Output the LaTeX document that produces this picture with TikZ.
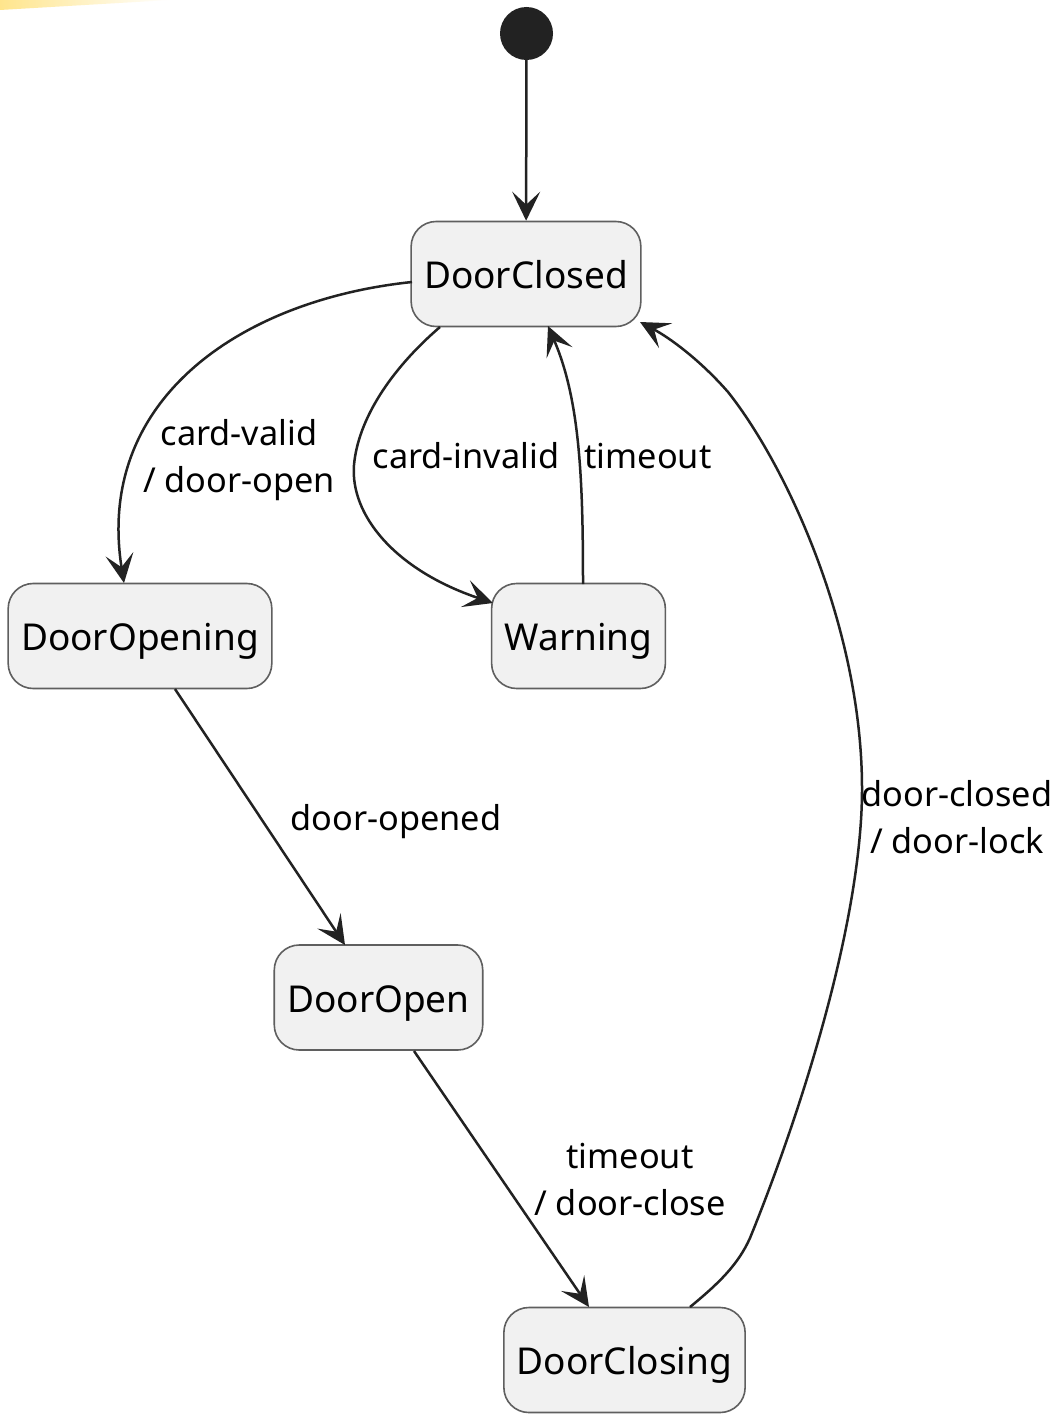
\documentclass[tikz,border=0pt]{standalone}
\usepackage{fontspec}
\setmainfont{Noto Sans}
\usetikzlibrary{arrows.meta}
\definecolor{statefill}{HTML}{F1F1F1}
\definecolor{stateline}{HTML}{5F5F5F}
\definecolor{ink}{HTML}{222222}
\tikzset{
  statebox/.style={draw=stateline, line width=1.6pt, fill=statefill, rounded corners=25pt,
    minimum height=105pt, inner xsep=13pt, text height=29pt, text depth=0pt,
    font=\fontsize{37}{44}\selectfont, text=black},
  startdot/.style={circle, fill=ink, minimum size=53pt, inner sep=0pt},
  trans/.style={draw=ink, line width=2.5pt, -{Stealth[length=29pt, width=28pt, inset=13pt]}},
  lbl/.style={font=\fontsize{34.3}{46.5}\selectfont, align=center, text=black, inner sep=0pt},
}
\begin{document}
\begin{tikzpicture}[x=1pt, y=-1pt]
\useasboundingbox (0,0) rectangle (1062,1421);
\fill[white] (0,0) rectangle (1062,1421);
\shade[left color=yellow!55!orange!45, right color=white] (0,0) -- (170,0) -- (0,10) -- cycle;

\node[startdot] (init) at (526.5,33.5) {};
\node[statebox, minimum width=228pt] (closed) at (526,274) {DoorClosed};
\node[statebox, minimum width=262pt] (opening) at (140,636) {DoorOpening};
\node[statebox, minimum width=173pt] (warning) at (578.5,636) {Warning};
\node[statebox, minimum width=208pt] (open) at (378.5,997.5) {DoorOpen};
\node[statebox, minimum width=241pt] (closing) at (624.5,1360) {DoorClosing};

\coordinate (c1s) at (412,282);
\coordinate (c1e) at (124,583);
\coordinate (c2s) at (440,327);
\coordinate (c2e) at (493,603);
\coordinate (w1s) at (583,584);
\coordinate (w1e) at (548,326);
\coordinate (o1s) at (175,689);
\coordinate (o1e) at (345,945);
\coordinate (o2s) at (414,1051);
\coordinate (o2e) at (589,1307);
\coordinate (d1s) at (690,1307);
\coordinate (d1e) at (640,322);

\draw[trans] (init) -- (closed);
\draw[trans] (c1s) .. controls (240,300) and (95,400) .. (c1e);
\draw[trans] (c2s) .. controls (390,370) and (358,420) .. (354,465) .. controls (350,515) and (395,570) .. (c2e);
\draw[trans] (w1s) .. controls (583,480) and (580,400) .. (w1e);
\draw[trans] (o1s) -- (o1e);
\draw[trans] (o2s) -- (o2e);
\draw[trans] (d1s) .. controls (718,1284) and (738,1265) .. (750,1238) .. controls (790,1140) and (852,960) .. (861,820) .. controls (872,650) and (790,470) .. (728,392) .. controls (700,360) and (670,338) .. (d1e);

\node[lbl, anchor=base] (l1) at (239,492) {card-valid\\/ door-open};
\node[lbl, anchor=base] (l2) at (466,468) {card-invalid};
\node[lbl, anchor=base] (l3) at (648,468) {timeout};
\node[lbl, anchor=base] (l4) at (396,830) {door-opened};
\node[lbl, anchor=base] (l5) at (630,1215) {timeout\\/ door-close};
\node[lbl, anchor=base] (l6) at (957,853) {door-closed\\/ door-lock};
\end{tikzpicture}
\end{document}
